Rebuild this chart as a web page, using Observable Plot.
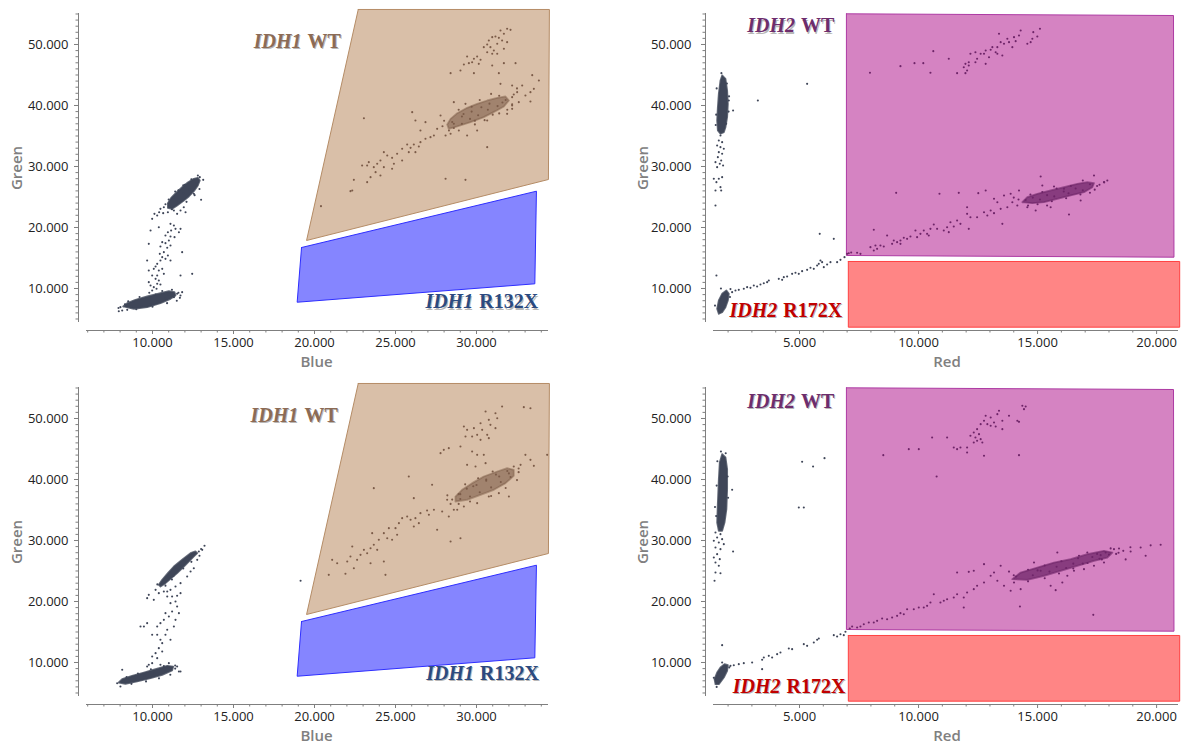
<!DOCTYPE html>
<html><head><meta charset="utf-8">
<script src="https://cdn.jsdelivr.net/npm/d3@7"></script>
<script src="https://cdn.jsdelivr.net/npm/@observablehq/plot@0.6"></script>
<style>
body{margin:0;background:#fff;}
#wrap{position:relative;width:1188px;height:751px;overflow:hidden;background:#fff;}
#wrap svg{position:absolute;overflow:visible;}
</style></head><body><div id="wrap"></div>
<script>
// ---------- values (thousands of fluorescence units) ----------
const yMajor = [10, 20, 30, 40, 50];
const xMajorBlue = [10, 15, 20, 25, 30];
const xMajorRed = [5, 10, 15, 20];

// gates
const gateIDH1wt = [[22.7,55.74],[34.5,55.74],[34.44,27.87],[19.51,17.87]];
const gateIDH1mut = [[19.2,16.72],[33.7,25.95],[33.6,10.77],[18.93,7.75]];
const gateIDH2wt = [[6.97,55.03],[20.71,54.75],[20.73,15.13],[6.97,15.41]];
const gateIDH2mut = [[7.05,14.43],[20.97,14.43],[20.97,3.66],[7.05,3.66]];

// gate labels: gene + allele
const labelsTL = [{x:19.38,y:50.49,gene:"IDH1",allele:"WT",kind:"wt1"},{x:29.98,y:7.79,gene:"IDH1",allele:"R132X",kind:"mut1"}];
const labelsBL = [{x:19.19,y:50.49,gene:"IDH1",allele:"WT",kind:"wt1"},{x:30.03,y:8.15,gene:"IDH1",allele:"R132X",kind:"mut1"}];
const labelsTR = [{x:4.94,y:53.03,gene:"IDH2",allele:"WT",kind:"wt2"},{x:4.19,y:6.39,gene:"IDH2",allele:"R172X",kind:"mut2"}];
const labelsBR = [{x:4.94,y:52.84,gene:"IDH2",allele:"WT",kind:"wt2"},{x:4.33,y:6.10,gene:"IDH2",allele:"R172X",kind:"mut2"}];

// ---- top-left (Blue vs Green) ----
const tlLowCore = [[8.19,7.05],[8.85,6.67],[9.67,6.93],[10.49,7.59],[11.11,8.31],[11.42,8.85],[11.36,9.39],[11.01,9.56],[10.49,9.23],[9.67,8.69],[8.95,8.15],[8.44,7.59]];
const tlHighCore = [[10.95,23.22],[10.95,23.99],[11.15,24.86],[11.48,25.74],[11.83,26.61],[12.18,27.38],[12.55,27.98],[12.80,28.14],[12.92,27.70],[12.80,26.89],[12.55,25.96],[12.24,25.08],[11.89,24.32],[11.52,23.61],[11.21,23.06]];
const tlOther = [[12.80,28.52],[12.92,28.25],[13.13,27.81],[13.00,24.54],[12.55,25.52],[10.70,23.33],[10.49,23.06],[10.41,22.51],[10.12,22.24],[10.29,21.97],[9.98,21.42],[10.66,22.35],[10.95,22.51],[11.32,22.79],[11.52,22.24],[11.73,22.79],[12.04,22.51],[11.93,23.33],[11.11,20.60],[11.32,20.33],[11.42,19.78],[11.73,19.78],[11.63,19.23],[11.15,19.51],[10.95,19.23],[10.80,18.69],[11.11,18.52],[11.36,18.42],[11.01,17.87],[10.80,17.43],[10.60,17.60],[10.49,16.89],[10.91,16.67],[11.11,17.05],[10.70,15.96],[10.45,15.68],[10.60,15.14],[10.80,14.86],[10.95,15.41],[11.11,14.59],[10.49,14.59],[10.29,14.04],[10.19,13.61],[10.08,13.22],[10.39,12.95],[10.60,13.22],[10.70,12.40],[10.29,12.13],[9.98,12.13],[10.19,11.58],[10.39,11.31],[9.77,11.04],[9.88,10.49],[10.08,10.22],[9.98,9.67],[10.29,10.77],[10.49,10.66],[10.25,9.95],[9.77,12.95],[9.67,14.59],[9.77,17.32],[9.88,19.51],[10.39,20.05],[11.83,15.96],[11.73,12.13],[12.45,12.40],[11.83,9.40],[11.73,8.85],[11.32,8.58],[8.02,6.94],[7.92,6.28],[8.13,6.39],[8.44,6.50],[11.52,9.13],[11.69,8.47],
 [8.5,7.9],[9.2,8.6],[9.8,9.3],[10.6,9.6],[11.2,9.8],[9.0,6.6],[10.0,7.0],[10.9,7.6],[11.5,8.0],[11.0,24.6],[11.4,25.9],[11.9,26.9],[12.4,27.9],[12.1,24.2],[12.6,25.3],[12.9,26.3],[11.2,23.0],
 [8.3,7.4],[8.7,7.0],[9.3,7.1],[9.9,7.4],[10.3,7.9],[10.8,8.4],[11.0,9.0],[10.2,9.0],[9.4,8.3],[8.8,7.8],[11.6,9.3],[7.9,6.8],[10.8,23.8],[11.3,24.9],[11.6,26.1],[12.0,27.0],[12.3,26.2],[11.9,25.6],[12.7,27.3],[11.5,24.3]];
const tlWtCore = [[28.29,36.17],[28.81,36.56],[29.63,37.27],[30.45,38.09],[31.17,39.07],[31.69,39.84],[32.00,40.82],[31.79,41.48],[31.28,41.26],[30.66,40.82],[30.04,40.27],[29.42,39.62],[28.81,38.74],[28.40,37.81],[28.19,36.89]];
const tlWt = [[31.89,52.57],[32.10,52.40],[31.48,52.30],[31.69,51.75],[31.17,51.31],[31.38,51.09],[30.97,51.20],[30.76,50.66],[31.58,50.66],[31.89,50.38],[31.28,50.11],[30.66,50.00],[30.45,49.56],[30.86,49.56],[31.07,49.02],[30.66,48.74],[31.69,49.29],[31.28,48.47],[30.97,48.47],[30.04,48.03],[29.42,48.03],[29.84,47.65],[30.25,47.49],[29.73,47.10],[29.53,46.94],[30.14,46.83],[29.22,46.72],[31.69,46.94],[32.41,46.94],[30.97,46.56],[31.38,45.30],[29.84,45.30],[29.01,45.74],[28.40,45.30],[33.44,44.97],[33.85,44.10],[32.20,43.28],[31.48,43.55],[32.82,43.28],[33.54,42.73],[33.33,42.19],[33.02,41.64],[32.51,42.19],[32.20,41.37],[32.20,40.00],[32.61,40.55],[33.33,40.66],[32.20,39.45],[31.89,38.63],[30.66,37.54],[30.04,35.90],[29.42,35.08],[28.60,40.55],[29.32,40.27],[27.78,38.36],[28.91,35.90],[28.40,35.36],[28.09,35.08],[27.57,36.17],[27.37,35.08],[27.16,34.81],[30.66,33.17],[26.85,34.54],[26.54,33.99],[26.44,33.28],[26.13,33.61],[25.93,33.06],[25.82,32.35],[25.41,32.90],[25.10,32.08],[24.79,31.42],[24.49,31.80],[24.90,30.44],[24.28,29.89],[24.07,30.98],[23.87,30.44],[23.66,29.89],[23.25,30.16],[22.94,30.16],[23.35,30.71],[23.77,29.07],[24.07,28.52],[23.46,28.25],[23.25,27.43],[22.43,27.81],[22.33,26.07],[22.22,25.96],[28.09,27.98],[29.32,27.81],[23.05,37.92],[26.03,38.91],[26.23,37.54],[26.85,37.27],[26.54,35.90],[25.72,33.61],[25.41,30.98],[26.23,32.35],[24.28,32.35],[24.79,29.62],[20.4,23.5],
 [28.0,37.5],[28.6,37.0],[29.2,38.6],[29.9,36.9],[30.5,37.6],[31.0,38.5],[31.6,40.5],[32.3,41.8],[30.2,40.9],[29.7,39.8],[28.9,39.3],[31.9,39.3],[32.5,42.8],[30.9,41.9],[27.9,36.6],[28.3,35.9],
 [28.6,36.3],[29.1,37.0],[29.6,37.8],[30.1,38.4],[30.7,39.3],[31.3,39.9],[31.8,40.9],[31.4,41.6],[30.8,40.3],[30.3,39.7],[29.7,39.0],[29.1,38.2],[28.5,37.3],[29.9,37.5],[31.4,38.7],[32.2,40.2]];

// ---- top-right (Red vs Green) ----
const trVertCore = [[1.75,44.92],[1.89,44.37],[1.96,42.46],[1.99,40.27],[1.96,38.09],[1.89,36.45],[1.82,35.63],[1.68,35.36],[1.57,35.90],[1.54,37.54],[1.57,39.73],[1.61,41.91],[1.68,44.10]];
const trLowCore = [[1.61,5.85],[1.54,6.67],[1.61,8.03],[1.75,9.13],[1.93,9.67],[2.03,9.13],[1.99,8.03],[1.89,6.94],[1.75,6.12]];
const trOther = [[1.68,35.08],[1.61,34.26],[1.75,33.99],[1.54,33.44],[1.68,33.17],[1.82,32.90],[1.61,32.35],[1.75,32.08],[1.57,31.53],[1.71,30.98],[1.47,30.71],[1.65,30.44],[1.79,30.16],[1.54,29.89],[1.40,27.98],[1.61,27.98],[1.75,28.25],[1.51,27.43],[1.68,26.61],[1.47,26.07],[1.71,26.07],[1.47,23.61],[2.21,39.18],[2.03,40.82],[3.25,40.82],[5.32,43.55],[5.85,18.96],[6.44,18.14],[1.51,12.13],
 [2.17,9.40],[2.31,9.67],[2.45,9.78],[2.66,9.95],[2.80,10.22],[2.94,10.11],[3.08,10.49],[3.22,10.33],[3.36,10.66],[3.50,10.87],[3.64,11.04],[3.71,11.31],[4.13,11.58],[4.27,11.42],[4.34,11.86],[4.48,11.97],[4.69,12.40],[4.83,12.57],[4.97,12.40],[5.11,12.84],[5.32,13.06],[5.46,13.39],[5.60,13.22],[5.74,13.77],[5.81,14.04],[5.95,14.32],[6.02,13.50],[6.16,13.93],[6.30,14.32],[5.88,14.59],[6.58,14.32],[6.72,14.70],[6.89,15.14],
 [1.50,38.5],[2.02,39.0],[1.52,42.8],[1.95,43.6],[1.72,45.3],[2.04,41.5],[1.48,36.8],[1.92,37.0],[1.45,7.2],[2.08,8.6],[1.7,10.0],[2.1,9.9]];
const trWtCore = [[14.36,24.15],[14.78,23.99],[15.27,24.15],[15.83,24.70],[16.39,25.25],[16.95,25.79],[17.30,26.61],[17.37,27.27],[17.09,27.43],[16.67,27.16],[16.11,26.61],[15.55,26.07],[14.99,25.52],[14.57,24.97]];
const trWt = [[15.10,52.57],[14.82,52.02],[14.29,52.30],[14.99,51.31],[14.78,50.93],[14.57,50.11],[14.71,50.38],[14.22,51.48],[14.01,51.20],[14.08,50.55],[13.94,49.56],[13.80,50.38],[13.59,50.11],[13.45,50.38],[13.38,51.75],[13.73,50.93],[13.31,49.56],[13.10,49.56],[13.24,48.74],[13.03,49.13],[12.82,49.02],[12.75,48.47],[13.52,48.20],[13.31,48.47],[12.96,47.92],[12.61,48.47],[12.39,48.74],[12.18,48.47],[12.46,47.65],[12.39,47.10],[12.11,47.10],[11.97,46.83],[11.90,46.28],[12.11,46.56],[12.04,45.74],[11.97,45.30],[11.62,45.30],[12.82,46.83],[11.27,47.65],[10.62,48.91],[10.20,46.94],[9.83,46.94],[9.24,46.45],[10.50,45.36],[7.96,45.36],
 [15.13,28.36],[15.20,26.89],[15.69,26.72],[16.11,26.34],[14.22,26.07],[13.87,25.52],[13.59,25.25],[13.17,24.70],[13.31,24.15],[13.94,24.15],[13.73,23.33],[14.15,23.61],[14.57,23.33],[14.92,22.79],[15.55,23.33],[16.81,24.43],[16.32,22.13],[17.37,28.52],[17.79,27.43],[17.93,27.70],[13.45,23.06],[13.03,22.79],[12.89,21.97],[12.75,22.51],[12.46,21.69],[12.18,21.69],[12.04,22.24],[13.52,20.60],[13.17,22.35],[12.82,26.07],[12.51,25.63],[11.69,25.68],[10.88,25.52],[9.06,25.68],[12.04,23.33],[11.62,21.15],[11.34,20.87],[11.76,20.60],[11.48,20.16],[11.20,20.05],[11.06,19.51],[10.78,19.78],[10.64,20.49],[10.50,19.78],[10.36,18.96],[10.22,19.51],[10.08,18.96],[9.94,18.42],[9.87,19.51],[9.66,18.52],[9.52,18.14],[9.38,18.31],[9.24,17.87],[9.10,17.60],[8.89,17.32],[8.68,18.69],[8.96,17.87],[8.54,16.89],[8.40,17.05],[8.26,16.50],[8.12,16.23],[7.98,16.78],[8.19,17.05],[12.11,19.78],[11.27,19.24],[10.43,18.69],[9.24,17.32],[8.12,19.62],[7.56,15.68],[7.42,15.85],[7.00,15.68],[7.07,15.79],[7.17,15.90],
 [14.2,24.6],[14.6,23.6],[15.0,23.8],[15.6,24.3],[16.2,24.8],[16.8,25.4],[17.4,26.2],[17.6,27.0],[16.4,26.8],[15.8,26.4],[15.2,25.8],[14.7,25.4],[14.0,24.9],[16.9,27.7],[17.2,25.7],[15.4,23.6],
 [14.5,24.5],[15.1,24.6],[15.7,25.1],[16.3,25.6],[16.9,26.1],[17.5,26.8],[17.8,27.4],[16.1,25.9],[15.4,25.3],[14.8,24.9],[16.6,26.4],[17.2,27.1]];

// ---- bottom-left (Blue vs Green) ----
const blLowCore = [[7.92,6.72],[8.33,6.50],[9.05,6.89],[9.88,7.43],[10.60,7.98],[11.21,8.69],[11.28,9.34],[10.91,9.45],[10.19,8.91],[9.47,8.36],[8.74,7.81],[8.13,7.27]];
const blHighCore = [[10.49,22.46],[10.80,23.01],[11.52,24.64],[12.04,26.01],[12.55,27.38],[12.76,27.92],[12.65,28.20],[12.35,27.92],[11.83,26.83],[11.32,25.74],[10.95,24.64],[10.60,23.55],[10.39,22.73]];
const blOther = [[13.21,29.13],[13.07,28.47],[12.86,28.20],[12.76,26.83],[12.55,25.46],[12.35,24.92],[12.14,24.10],[11.73,23.01],[11.42,22.46],[11.11,21.91],[10.91,21.64],[10.70,21.64],[10.39,21.37],[10.19,21.91],[9.77,21.09],[9.67,20.55],[10.08,20.27],[10.91,20.82],[11.21,20.82],[11.52,20.93],[11.73,21.37],[11.42,20.00],[11.11,19.73],[11.52,19.18],[11.21,18.36],[11.63,18.09],[11.42,16.99],[11.01,17.54],[10.80,18.09],[10.70,16.99],[10.49,16.45],[10.29,15.90],[9.98,14.54],[9.67,16.45],[9.47,15.90],[9.26,15.90],[10.29,14.54],[10.91,15.36],[10.49,13.72],[10.60,13.17],[10.39,12.35],[10.60,11.80],[10.19,11.53],[9.98,10.98],[10.29,10.71],[9.98,9.89],[9.77,9.62],[11.32,15.90],[11.11,13.72],[10.80,14.54],[11.52,9.34],[11.63,8.52],[8.13,8.80],[7.82,6.61],[8.02,6.07],[8.23,7.16],[11.01,9.89],[10.49,9.62],[9.67,9.34],[11.73,8.52],[19.14,23.39],
 [8.4,7.6],[9.1,8.2],[9.9,8.9],[10.7,9.4],[11.4,9.0],[8.7,6.5],[9.6,6.9],[10.4,7.4],[11.1,8.0],[10.6,22.9],[11.0,24.1],[11.5,25.3],[12.0,26.6],[12.5,27.9],[12.9,27.5],[12.4,26.5],[11.9,25.4],[11.3,24.2],
 [8.2,6.9],[8.9,7.3],[9.5,7.9],[10.1,8.3],[10.8,8.6],[11.4,9.5],[10.3,22.8],[10.8,22.6],[11.7,25.9],[12.2,27.3],[13.0,28.6],[11.2,23.6]];
const blWtCore = [[28.70,36.39],[29.42,36.67],[30.25,37.49],[31.07,38.31],[31.79,39.40],[32.30,40.60],[32.30,41.58],[31.89,41.86],[31.28,41.31],[30.45,40.49],[29.73,39.40],[29.11,38.31],[28.70,37.21]];
const blWt = [[31.58,51.97],[31.17,50.87],[30.56,51.15],[31.28,50.05],[30.76,49.78],[30.25,49.23],[30.86,48.96],[31.17,48.42],[30.35,48.14],[29.84,48.42],[29.42,48.14],[29.22,48.69],[30.04,47.32],[29.73,47.05],[29.32,47.05],[30.66,47.32],[30.76,46.78],[30.25,46.50],[29.01,45.41],[28.29,45.14],[27.98,44.86],[27.78,44.32],[29.73,44.59],[30.04,44.04],[30.45,44.04],[32.92,51.86],[33.33,51.69],[30.56,42.68],[29.94,42.13],[29.42,42.40],[34.36,44.04],[33.02,44.04],[33.33,43.22],[33.54,42.24],[32.72,42.40],[32.30,42.13],[32.00,37.21],[31.38,37.76],[30.76,37.21],[30.04,36.12],[29.22,35.57],[28.81,35.03],[28.29,33.93],[27.88,34.75],[27.37,35.03],[26.95,34.92],[27.06,34.21],[26.54,34.48],[26.23,33.66],[25.93,33.39],[26.44,32.84],[26.13,32.30],[25.72,33.93],[25.41,33.66],[25.21,32.84],[25.00,32.02],[24.59,32.02],[24.28,31.20],[25.10,30.93],[24.79,30.11],[24.49,30.38],[23.97,30.11],[23.66,29.29],[23.46,28.74],[23.87,28.47],[23.25,27.92],[23.05,28.47],[22.84,27.65],[22.63,26.83],[22.33,29.02],[22.22,27.38],[22.02,26.56],[22.43,25.46],[21.91,24.54],[21.40,26.28],[21.09,26.83],[20.88,24.37],[26.13,36.94],[27.26,39.13],[25.82,40.49],[23.66,38.58],[23.56,31.20],[24.28,26.56],[23.46,26.28],[24.38,24.37],[28.40,29.84],[29.01,30.38],[27.57,31.75],[28.19,36.67],[28.60,35.03],
 [28.4,36.0],[29.0,37.6],[29.8,38.9],[30.6,39.8],[31.4,40.5],[32.0,41.0],[32.6,41.2],[31.8,38.6],[30.9,37.3],[29.6,36.4],[28.9,36.0],[32.5,39.9],[31.0,41.3],[30.1,40.2],[28.2,37.4],[29.3,39.2],
 [29.0,36.8],[29.6,37.2],[30.2,37.9],[30.9,38.7],[31.5,39.6],[32.1,40.4],[31.9,41.4],[31.2,40.8],[30.6,40.0],[30.0,39.1],[29.4,38.5],[28.9,37.6],[32.6,41.8],[28.5,36.7]];

// ---- bottom-right (Red vs Green) ----
const brVertCore = [[1.75,44.15],[1.89,43.61],[1.96,41.69],[1.96,38.42],[1.93,35.14],[1.85,32.95],[1.75,31.58],[1.61,31.58],[1.54,32.95],[1.57,36.23],[1.61,40.05],[1.65,42.79]];
const brLowCore = [[1.47,6.45],[1.43,7.27],[1.54,8.36],[1.68,9.18],[1.85,9.73],[1.99,9.56],[1.96,8.63],[1.82,7.54],[1.61,6.45]];
const brOther = [[1.47,31.31],[1.68,31.04],[1.54,30.49],[1.75,30.22],[1.40,29.95],[1.61,29.67],[1.82,29.40],[1.47,28.85],[1.68,28.58],[1.54,27.76],[1.40,27.21],[1.65,26.94],[1.47,26.39],[1.61,25.85],[1.47,24.75],[1.68,24.64],[1.43,23.39],[2.17,38.31],[2.21,28.20],[5.11,42.90],[5.57,42.13],[6.05,43.50],[4.97,35.41],[5.18,35.41],[1.75,12.84],
 [2.10,9.45],[2.24,9.56],[2.45,9.73],[2.66,9.89],[3.01,10.00],[3.43,10.44],[3.50,10.82],[3.71,11.09],[3.85,10.82],[4.06,11.37],[4.20,11.64],[4.55,12.30],[4.69,12.19],[5.18,13.01],[5.32,12.73],[5.60,13.28],[5.74,13.72],[5.81,13.93],[6.44,14.48],[6.58,14.26],[6.72,14.64],[6.86,14.48],[6.93,15.03],[3.43,8.91],
 [1.50,34.0],[2.00,37.0],[1.52,39.0],[1.98,40.5],[1.55,43.0],[1.90,44.3],[1.70,44.6],[1.45,35.5],[1.40,7.5],[2.05,9.2],[1.75,10.0],[1.52,6.0]];
const brWtCore = [[13.94,23.66],[14.57,23.55],[15.27,24.21],[15.97,25.03],[16.67,25.85],[17.37,26.67],[17.93,27.21],[18.14,28.03],[17.79,28.31],[17.09,27.76],[16.39,26.94],[15.69,26.39],[14.99,25.57],[14.29,24.75]];
const brWt = [[14.36,52.08],[14.50,51.97],[14.43,51.53],[14.15,49.62],[14.22,49.45],[13.80,50.44],[13.52,49.62],[13.38,51.26],[13.31,50.71],[13.17,49.34],[13.03,48.80],[12.89,49.07],[12.82,50.44],[12.75,49.62],[12.61,49.07],[12.46,48.25],[12.32,47.70],[12.54,47.43],[12.39,46.89],[12.61,46.61],[12.46,46.34],[12.32,46.07],[12.68,46.07],[12.18,47.16],[11.76,45.25],[11.62,44.97],[11.48,45.25],[12.04,45.25],[12.04,44.43],[12.75,43.88],[14.22,43.99],[11.20,46.89],[10.57,46.89],[10.01,44.97],[9.59,44.97],[8.52,43.99],[10.76,40.49],[13.52,48.25],[13.24,48.69],[13.03,50.16],
 [15.83,28.03],[16.74,27.49],[17.09,28.03],[17.65,27.60],[17.86,28.03],[18.21,28.58],[18.42,28.69],[17.79,26.39],[17.37,25.85],[16.95,25.30],[16.53,25.03],[16.25,24.21],[16.04,23.11],[15.76,21.86],[15.55,22.57],[15.13,25.03],[14.85,26.39],[13.45,25.85],[13.17,24.75],[13.03,24.21],[13.31,23.39],[13.59,22.57],[13.87,21.75],[14.29,22.02],[14.01,23.11],[12.75,23.11],[12.46,22.57],[12.32,22.02],[12.04,21.48],[11.90,20.66],[11.62,21.20],[11.48,20.66],[11.20,20.38],[11.06,20.11],[10.92,19.84],[10.64,21.20],[10.50,19.84],[10.36,19.29],[10.22,19.02],[10.01,19.02],[9.80,18.74],[9.52,18.74],[9.38,17.92],[9.24,18.09],[9.10,17.65],[8.89,17.38],[8.68,17.10],[8.47,17.21],[8.26,16.83],[8.12,16.56],[7.91,16.56],[7.70,16.28],[7.56,15.90],[7.42,15.74],[7.21,15.90],[7.11,15.57],[12.75,26.12],[12.32,25.03],[11.62,24.75],[12.11,24.86],[11.90,19.02],[14.26,19.18],[17.34,17.81],
 [18.91,28.2],[19.33,28.85],[19.75,29.2],[20.17,29.3],[18.70,26.9],[19.54,27.5],[18.07,28.7],
 [14.0,24.3],[14.6,23.3],[15.3,23.8],[15.9,24.6],[16.5,25.4],[17.1,26.3],[17.7,26.9],[18.3,27.8],[18.6,28.3],[17.5,27.8],[16.7,27.1],[16.0,26.6],[15.3,25.9],[14.6,25.2],[13.8,24.9],[18.9,28.9],
 [14.1,24.1],[14.8,24.3],[15.5,24.9],[16.2,25.5],[16.9,26.2],[17.6,27.0],[18.0,27.7],[16.5,26.2],[15.8,25.7],[15.0,25.1],[17.3,27.3],[18.4,28.0]];

// ---------- styles ----------
const C = {
  dark: "#3f4658", brownPt: "#7b5b48", purplePt: "#6e2468",
  wt1Fill: "#d9bfa8", wt1Stroke: "#b58c66", mut1Fill: "#8585ff", mut1Stroke: "#2e2eff",
  wt2Fill: "#d583c2", wt2Stroke: "#ad3aa3", mut2Fill: "#ff8585", mut2Stroke: "#ff4040",
  axis: "#7f7f7f", tick: "#222", title: "#808080"
};
const labelColor = {wt1: "#8c6b55", mut1: "#2b4a80", wt2: "#6d2d6d", mut2: "#c00000"};

const loc = d3.formatLocale({decimal: ",", thousands: ".", grouping: [3]});
const fmt = loc.format(",");
const tickFmt = d => fmt(Math.round(d * 1000));
const intsBetween = (a, b) => d3.range(a, b + 1);
const yDomain = [4.426, 55.08];
const closed = p => [...p, p[0]];
const X = d => d[0], Y = d => d[1];

function panel(cfg) {
  const xMinor = intsBetween(Math.ceil(cfg.xDomain[0]), Math.floor(cfg.xDomain[1])).filter(v => !cfg.xMajor.includes(v));
  const yMinor = intsBetween(5, 55).filter(v => !yMajor.includes(v));
  const marks = [];
  for (const g of cfg.gates)
    marks.push(Plot.line(closed(g.pts), {x: X, y: Y, fill: g.fill, stroke: g.stroke, strokeWidth: 1}));
  for (const c of cfg.cores)
    marks.push(Plot.line(closed(c.pts), {x: X, y: Y, fill: c.color, stroke: c.color, strokeWidth: 1.8, fillOpacity: c.op, strokeOpacity: c.op * 0.8, strokeLinejoin: "round"}));
  for (const s of cfg.points)
    marks.push(Plot.dot(s.pts, {x: X, y: Y, r: 1.05, fill: s.color, stroke: null}));
  // labels (shadow + text)
  for (const L of cfg.labels) {
    const col = labelColor[L.kind];
    const base = {x: "x", y: "y", fontFamily: "Liberation Serif", fontSize: 20, fontWeight: "bold", lineAnchor: "middle"};
    marks.push(Plot.text([L], {...base, text: "gene", textAnchor: "end", fontStyle: "italic", fill: "#000", fillOpacity: 0.28, dx: -2, dy: 1.2}));
    marks.push(Plot.text([L], {...base, text: "allele", textAnchor: "start", fill: "#000", fillOpacity: 0.28, dx: 4, dy: 1.2}));
    marks.push(Plot.text([L], {...base, text: "gene", textAnchor: "end", fontStyle: "italic", fill: col, dx: -3}));
    marks.push(Plot.text([L], {...base, text: "allele", textAnchor: "start", fill: col, dx: 3}));
  }
  // axis lines (offset from the data area)
  marks.push(Plot.ruleX([cfg.xDomain[0]], {y1: yDomain[0], y2: yDomain[1], dx: -8, stroke: C.axis}));
  marks.push(Plot.ruleY([yDomain[0]], {x1: cfg.xDomain[0], x2: cfg.xDomain[1], dy: 8, stroke: C.axis}));
  // ticks
  marks.push(Plot.axisY(yMajor, {tickSize: 4, tickPadding: cfg.yPad, tickFormat: tickFmt, stroke: C.axis, fill: C.tick, fontSize: 13, label: null}));
  marks.push(Plot.axisY(yMinor, {tickSize: 2.5, tickFormat: () => "", stroke: C.axis, label: null}));
  marks.push(Plot.axisX(cfg.xMajor, {tickSize: 4, tickPadding: 3, tickFormat: tickFmt, stroke: C.axis, fill: C.tick, fontSize: 13, label: null}));
  marks.push(Plot.axisX(xMinor, {tickSize: 2.5, tickFormat: () => "", stroke: C.axis, label: null}));
  // axis titles
  const tstyle = {fontFamily: "Open Sans", fontSize: 15, fontWeight: 600, fill: C.title};
  marks.push(Plot.text([cfg.xLabel], {...tstyle, frameAnchor: "bottom", lineAnchor: "middle", dy: 32}));
  marks.push(Plot.text(["Green"], {...tstyle, frameAnchor: "left", rotate: -90, lineAnchor: "middle", textAnchor: "middle", dx: cfg.gDx, dy: -4}));

  const svg = Plot.plot({
    width: 594, height: cfg.height,
    marginLeft: cfg.marginLeft, marginRight: cfg.marginRight, marginTop: 13, marginBottom: cfg.height - 330,
    x: {domain: cfg.xDomain, range: cfg.xRange},
    y: {domain: yDomain, range: [322, 13]},
    style: {fontFamily: "Open Sans", fontSize: "13px", background: "transparent", overflow: "visible"},
    marks
  });
  svg.style.left = cfg.left + "px";
  svg.style.top = cfg.top + "px";
  document.getElementById("wrap").appendChild(svg);
}

const blueCfg = {xDomain: [5.926, 34.444], xRange: [86, 548], marginLeft: 78, marginRight: 40, xMajor: xMajorBlue, xLabel: "Blue", yPad: 6, gDx: -61};
const redCfg = {xDomain: [1.387, 20.92], xRange: [119, 584], marginLeft: 111, marginRight: 0, xMajor: xMajorRed, xLabel: "Red", yPad: 10, gDx: -62};
const gates1 = [{pts: gateIDH1wt, fill: C.wt1Fill, stroke: C.wt1Stroke}, {pts: gateIDH1mut, fill: C.mut1Fill, stroke: C.mut1Stroke}];
const gates2 = [{pts: gateIDH2wt, fill: C.wt2Fill, stroke: C.wt2Stroke}, {pts: gateIDH2mut, fill: C.mut2Fill, stroke: C.mut2Stroke}];

panel({...blueCfg, height: 374, left: 0, top: 0, gates: gates1, labels: labelsTL,
  cores: [{pts: tlLowCore, color: C.dark, op: 1}, {pts: tlHighCore, color: C.dark, op: 1}, {pts: tlWtCore, color: C.brownPt, op: 0.6}],
  points: [{pts: tlOther, color: C.dark}, {pts: tlWt, color: C.brownPt}]});
panel({...redCfg, height: 374, left: 594, top: 0, gates: gates2, labels: labelsTR,
  cores: [{pts: trVertCore, color: C.dark, op: 1}, {pts: trLowCore, color: C.dark, op: 1}, {pts: trWtCore, color: C.purplePt, op: 0.75}],
  points: [{pts: trOther, color: C.dark}, {pts: trWt, color: C.purplePt}]});
panel({...blueCfg, height: 377, left: 0, top: 374, gates: gates1, labels: labelsBL,
  cores: [{pts: blLowCore, color: C.dark, op: 1}, {pts: blHighCore, color: C.dark, op: 1}, {pts: blWtCore, color: C.brownPt, op: 0.6}],
  points: [{pts: blOther, color: C.dark}, {pts: blWt, color: C.brownPt}]});
panel({...redCfg, height: 377, left: 594, top: 374, gates: gates2, labels: labelsBR,
  cores: [{pts: brVertCore, color: C.dark, op: 1}, {pts: brLowCore, color: C.dark, op: 1}, {pts: brWtCore, color: C.purplePt, op: 0.75}],
  points: [{pts: brOther, color: C.dark}, {pts: brWt, color: C.purplePt}]});
</script></body></html>
